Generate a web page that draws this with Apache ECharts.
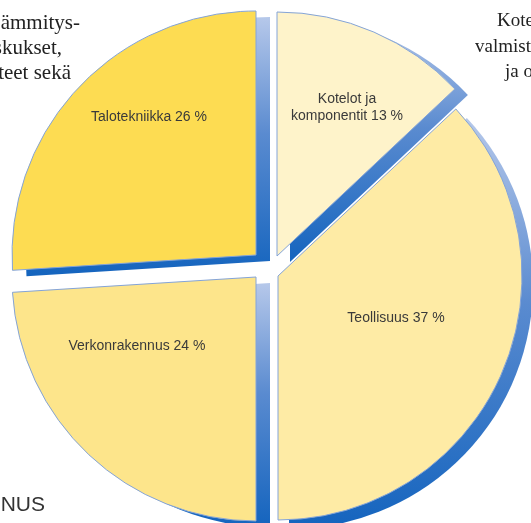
<!DOCTYPE html>
<html>
<head>
<meta charset="utf-8">
<script src="https://cdn.jsdelivr.net/npm/echarts@6/dist/echarts.min.js"></script>
<style>
html,body{margin:0;padding:0;background:#fff;}
#chart{width:531px;height:523px;}
</style>
</head>
<body>
<div id="chart"></div>
<script>
// ---- data (clockwise from 12 o'clock) ----
const categories = ['Kotelot ja\nkomponentit', 'Teollisuus', 'Verkonrakennus', 'Talotekniikka'];
const shares = [13, 37, 24, 26];
const sliceColors = ['#FEF3CA', '#FEEBA5', '#FDE58B', '#FDDC52'];

// ---- layout (exploded slices, each one translated) ----
const R = 244;
const centers = [[277, 256], [278, 276], [256, 277], [256, 255]];
const shadowOffsets = [[13, 6], [11, 9], [14, 6], [14, 6]];
const labelPos = [[347, 108], [396, 318], [137, 346], [149, 117]];

const chart = echarts.init(document.getElementById('chart'), null, {renderer: 'canvas'});

function shadowGradient() {
  return {
    type: 'linear', x: 0, y: 0, x2: 0, y2: 1,
    colorStops: [
      {offset: 0, color: '#b6c8ea'},
      {offset: 0.45, color: '#5a8bd0'},
      {offset: 1, color: '#1464be'}
    ]
  };
}

const series = [];
// shadows (extrusion) first
categories.forEach((c, i) => {
  series.push({
    type: 'pie',
    silent: true,
    animation: false,
    z: 1,
    radius: R,
    startAngle: 90,
    clockwise: true,
    center: [centers[i][0] + shadowOffsets[i][0], centers[i][1] + shadowOffsets[i][1]],
    label: {show: false},
    labelLine: {show: false},
    data: shares.map((v, j) => ({
      name: categories[j],
      value: v,
      itemStyle: j === i
        ? {color: shadowGradient(), borderWidth: 0}
        : {color: 'rgba(0,0,0,0)', borderWidth: 0}
    }))
  });
});
// slices
categories.forEach((c, i) => {
  series.push({
    type: 'pie',
    silent: true,
    animation: false,
    z: 2,
    radius: R,
    startAngle: 90,
    clockwise: true,
    avoidLabelOverlap: false,
    center: centers[i],
    labelLine: {show: false},
    labelLayout: function (p) {
      return {x: labelPos[i][0], y: labelPos[i][1]};
    },
    data: shares.map((v, j) => ({
      name: categories[j],
      value: v,
      itemStyle: j === i
        ? {color: sliceColors[j], borderColor: '#84a4d8', borderWidth: 1}
        : {color: 'rgba(0,0,0,0)', borderWidth: 0},
      label: j === i
        ? {
            show: true,
            position: 'inside',
            formatter: '{b} {c} %',
            fontFamily: '"Liberation Sans", Arial, sans-serif',
            fontSize: 14,
            lineHeight: 17,
            color: '#3a3a3a',
            align: 'center',
            verticalAlign: 'middle'
          }
        : {show: false}
    }))
  });
});

const serifL = '21px "Liberation Serif", "DejaVu Serif", serif';
const serifR = '19px "Liberation Serif", "DejaVu Serif", serif';
const bgText = [
  {t: 'Lämmitys-', x: 80, y: 23, a: 'right', f: serifL},
  {t: 'sähkökeskukset,', x: 62, y: 48, a: 'right', f: serifL},
  {t: 'laitteet sekä', x: 71, y: 73, a: 'right', f: serifL},
  {t: 'Kotelot', x: 497, y: 21, a: 'left', f: serifR},
  {t: 'valmistus', x: 475, y: 47, a: 'left', f: serifR},
  {t: 'ja osat', x: 505, y: 72, a: 'left', f: serifR}
];

chart.setOption({
  animation: false,
  backgroundColor: '#ffffff',
  graphic: bgText.map(o => ({
    type: 'text',
    x: o.x, y: o.y,
    silent: true,
    style: {text: o.t, font: o.f, fill: '#222', align: o.a, verticalAlign: 'middle'}
  })).concat([{
    type: 'text',
    x: 45, y: 505,
    silent: true,
    style: {text: 'VERKONRAKENNUS', font: '21px "Liberation Sans", Arial, sans-serif', fill: '#333', align: 'right', verticalAlign: 'middle'}
  }]),
  series: series
});
</script>
</body>
</html>
